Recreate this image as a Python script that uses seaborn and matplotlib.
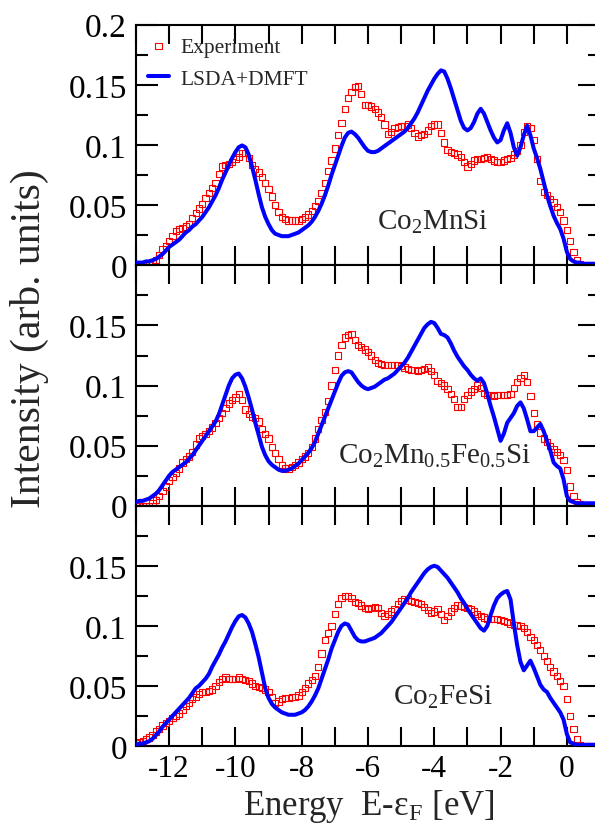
import numpy as np
import matplotlib
matplotlib.use('Agg')
import matplotlib.pyplot as plt
import seaborn as sns
from matplotlib.ticker import MultipleLocator, FuncFormatter

# energy grid E - eF in eV, 0.1 eV steps from -13.0 to 0.9
energy = np.round(np.arange(-13.0, 0.95, 0.1), 1)

# ---- Co2MnSi ----
exp_mnsi = [
    .000, .000, .000, .000, .001, .002, .004, .008, .013, .016,
    .020, .024, .028, .030, .031, .032, .034, .039, .043, .047,
    .051, .056, .060, .064, .068, .076, .082, .083, .084, .086,
    .088, .090, .093, .093, .089, .083, .080, .077, .073, .068,
    .063, .057, .050, .044, .040, .038, .037, .037, .037, .037,
    .038, .040, .042, .045, .049, .053, .060, .068, .078, .087,
    .097, .108, .118, .130, .139, .144, .148, .149, .142, .133,
    .133, .132, .130, .127, .123, .117, .109, .111, .114, .115,
    .116, .116, .117, .114, .110, .107, .108, .109, .112, .116,
    .117, .117, .110, .102, .096, .094, .093, .092, .090, .086,
    .082, .084, .087, .088, .088, .089, .090, .088, .087, .086,
    .086, .087, .088, .089, .092, .095, .100, .111, .116, .114,
    .104, .088, .070, .061, .058, .055, .052, .048, .044, .037,
    .029, .020, .011, .004, .001, .000, .000, .000, .000, .000,
]
dmft_mnsi = [
    .002, .002, .002, .003, .003, .004, .005, .007, .009, .012,
    .015, .017, .019, .021, .024, .027, .029, .032, .034, .037,
    .040, .044, .048, .053, .058, .064, .071, .077, .083, .089,
    .094, .098, .0995, .098, .092, .082, .071, .059, .048, .040,
    .034, .029, .026, .025, .024, .024, .024, .025, .026, .027,
    .029, .031, .033, .036, .040, .045, .051, .058, .066, .075,
    .083, .091, .099, .106, .110, .111, .109, .106, .102, .098,
    .095, .094, .094, .095, .097, .099, .101, .103, .105, .107,
    .109, .111, .114, .118, .122, .127, .133, .139, .145, .150,
    .155, .159, .162, .161, .155, .147, .138, .129, .120, .114,
    .112, .114, .119, .126, .130, .126, .119, .112, .106, .102,
    .104, .112, .118, .110, .098, .091, .098, .108, .116, .108,
    .097, .089, .080, .069, .058, .049, .041, .035, .030, .022,
    .011, .005, .003, .002, .002, .001, .001, .001, .001, .001,
]

# ---- Co2Mn0.5Fe0.5Si ----
exp_mnfesi = [
    .000, .000, .000, .000, .000, .002, .005, .008, .012, .016,
    .021, .024, .027, .031, .036, .039, .041, .045, .051, .056,
    .058, .060, .062, .065, .069, .073, .077, .081, .085, .088,
    .090, .093, .088, .080, .076, .074, .073, .070, .064, .060,
    .056, .049, .044, .039, .034, .031, .031, .032, .034, .036,
    .039, .041, .044, .049, .056, .064, .071, .078, .087, .100,
    .113, .125, .134, .140, .142, .143, .138, .134, .132, .130,
    .128, .125, .121, .119, .118, .117, .117, .117, .117, .117,
    .116, .115, .114, .113, .113, .112, .113, .114, .115, .112,
    .109, .104, .102, .100, .097, .093, .089, .082, .082, .089,
    .092, .095, .097, .100, .098, .094, .092, .092, .091, .092,
    .092, .092, .092, .093, .098, .103, .106, .109, .103, .091,
    .077, .068, .061, .056, .053, .050, .047, .045, .042, .038,
    .030, .016, .008, .003, .001, .000, .000, .000, .000, .000,
]
dmft_mnfesi = [
    .003, .004, .004, .005, .006, .008, .010, .013, .017, .021,
    .025, .028, .030, .032, .034, .036, .039, .042, .046, .050,
    .054, .058, .062, .066, .070, .076, .084, .092, .100, .106,
    .109, .110, .106, .099, .090, .080, .069, .059, .049, .042,
    .037, .034, .032, .030, .029, .029, .030, .031, .033, .035,
    .038, .041, .044, .048, .053, .060, .067, .074, .081, .088,
    .095, .102, .108, .111, .112, .111, .107, .103, .100, .098,
    .097, .098, .099, .101, .103, .105, .106, .108, .110, .113,
    .116, .119, .123, .128, .133, .138, .143, .148, .151, .153,
    .152, .148, .143, .142, .140, .135, .129, .124, .120, .116,
    .113, .109, .106, .104, .106, .102, .093, .083, .074, .064,
    .054, .060, .069, .073, .077, .083, .086, .081, .072, .062,
    .062, .065, .068, .062, .054, .046, .036, .033, .031, .022,
    .008, .004, .003, .002, .002, .002, .002, .002, .002, .002,
]

# ---- Co2FeSi ----
exp_fesi = [
    .002, .003, .004, .006, .007, .009, .012, .014, .017, .019,
    .021, .023, .025, .027, .030, .033, .036, .039, .041, .043,
    .045, .045, .046, .047, .050, .053, .056, .057, .056, .056,
    .056, .057, .056, .055, .054, .052, .050, .049, .048, .047,
    .045, .041, .036, .037, .039, .040, .040, .041, .041, .042,
    .045, .048, .052, .055, .058, .066, .077, .088, .094, .100,
    .110, .118, .123, .125, .125, .123, .120, .119, .117, .115,
    .114, .115, .116, .115, .111, .108, .110, .112, .114, .118,
    .121, .122, .122, .121, .120, .119, .118, .116, .113, .111,
    .112, .114, .110, .105, .108, .112, .115, .117, .117, .116,
    .115, .114, .112, .110, .108, .107, .106, .106, .106, .106,
    .105, .104, .103, .102, .101, .101, .100, .098, .095, .091,
    .088, .084, .080, .075, .071, .066, .062, .058, .054, .050,
    .039, .025, .014, .006, .001, .000, .000, .000, .000, .000,
]
dmft_fesi = [
    .001, .002, .002, .003, .004, .006, .009, .012, .016, .019,
    .022, .025, .028, .031, .034, .037, .040, .044, .048, .050,
    .053, .056, .060, .066, .071, .076, .082, .087, .093, .099,
    .104, .108, .109, .107, .102, .095, .085, .074, .061, .048,
    .040, .035, .032, .030, .028, .027, .026, .026, .026, .027,
    .028, .030, .033, .037, .042, .048, .056, .064, .072, .081,
    .088, .095, .100, .102, .101, .096, .091, .088, .087, .087,
    .088, .089, .090, .092, .094, .097, .100, .103, .107, .111,
    .115, .119, .123, .128, .132, .136, .140, .144, .147, .149,
    .150, .149, .146, .143, .140, .136, .132, .128, .123, .119,
    .114, .110, .106, .102, .098, .096, .100, .109, .117, .123,
    .126, .128, .129, .122, .102, .084, .070, .063, .067, .071,
    .065, .058, .051, .047, .045, .040, .036, .032, .028, .022,
    .010, .003, .002, .001, .001, .001, .001, .001, .001, .001,
]

compounds = [r'Co$_2$MnSi', r'Co$_2$Mn$_{0.5}$Fe$_{0.5}$Si', r'Co$_2$FeSi']
experiment = [exp_mnsi, exp_mnfesi, exp_fesi]
theory = [dmft_mnsi, dmft_mnfesi, dmft_fesi]
label_pos = [(-5.72, 0.030), (-6.9, 0.0356), (-5.24, 0.035)]

sns.set_style('ticks')
plt.rcParams['font.family'] = ['Liberation Serif', 'DejaVu Serif']
plt.rcParams['mathtext.fontset'] = 'custom'
plt.rcParams['mathtext.rm'] = 'Liberation Serif'
plt.rcParams['mathtext.it'] = 'Liberation Serif:italic'
plt.rcParams['axes.unicode_minus'] = False

fig = plt.figure(figsize=(5.95, 8.29), dpi=100)
left, width = 136 / 595, (600 - 136) / 595
panel_h = 240.3 / 829
bottoms = [1 - 266 / 829, 1 - 506.7 / 829, 1 - 747 / 829]

for i in range(3):
    ax = fig.add_axes([left, bottoms[i], width, panel_h])
    sns.scatterplot(x=energy, y=experiment[i], marker='s', s=20,
                    facecolors='none', edgecolor='red', linewidth=0.8,
                    ax=ax, zorder=2, legend=False)
    sns.lineplot(x=energy, y=theory[i], color='blue', lw=2.9, ax=ax,
                 zorder=3, legend=False)

    ax.set_xlim(-13, 1)
    ax.set_ylim(0, 0.2)
    ax.xaxis.set_major_locator(MultipleLocator(2))
    ax.xaxis.set_minor_locator(MultipleLocator(1))
    ax.yaxis.set_major_locator(MultipleLocator(0.05))
    ax.yaxis.set_minor_locator(MultipleLocator(0.025))
    # the 0.2 label only on the top panel, lower ones would hit the 0 above
    ax.yaxis.set_major_formatter(FuncFormatter(
        lambda v, p, top=(i == 0): '' if (v > 0.19 and not top) else '%g' % round(v, 3)))
    ax.tick_params(which='both', direction='in', top=True, right=True,
                   width=1.5, colors='black')
    ax.tick_params(axis='x', which='both', length=14, labelsize=22.5, pad=6,
                   labelbottom=(i == 2))
    ax.tick_params(axis='y', which='major', length=16, labelsize=24, pad=6.5)
    ax.tick_params(axis='y', which='minor', length=8.5)
    for sp in ax.spines.values():
        sp.set_linewidth(1.5)
        sp.set_color('black')
    ax.set_xlabel('')
    ax.set_ylabel('')

    lx, ly = label_pos[i]
    ax.text(lx, ly, compounds[i], fontsize=21, ha='left', va='baseline', zorder=5)

    if i == 0:
        sc = ax.collections[0]
        ln = ax.lines[0]
        ax.legend([sc, ln], ['Experiment', 'LSDA+DMFT'], loc='upper left',
                  frameon=False, fontsize=15.5, handlelength=1.0,
                  handletextpad=0.5, borderaxespad=0.3, borderpad=0.25,
                  labelspacing=0.55, scatterpoints=1)

fig.text(29 / 595, 1 - 339 / 829, 'Intensity (arb. units)', rotation=90,
         fontsize=30, ha='center', va='center')
fig.text(369 / 595, 1 - 815 / 829, r'Energy  E-ε$_\mathrm{F}$ [eV]',
         fontsize=25, ha='center', va='baseline')

fig.savefig('out.png', dpi=100)
